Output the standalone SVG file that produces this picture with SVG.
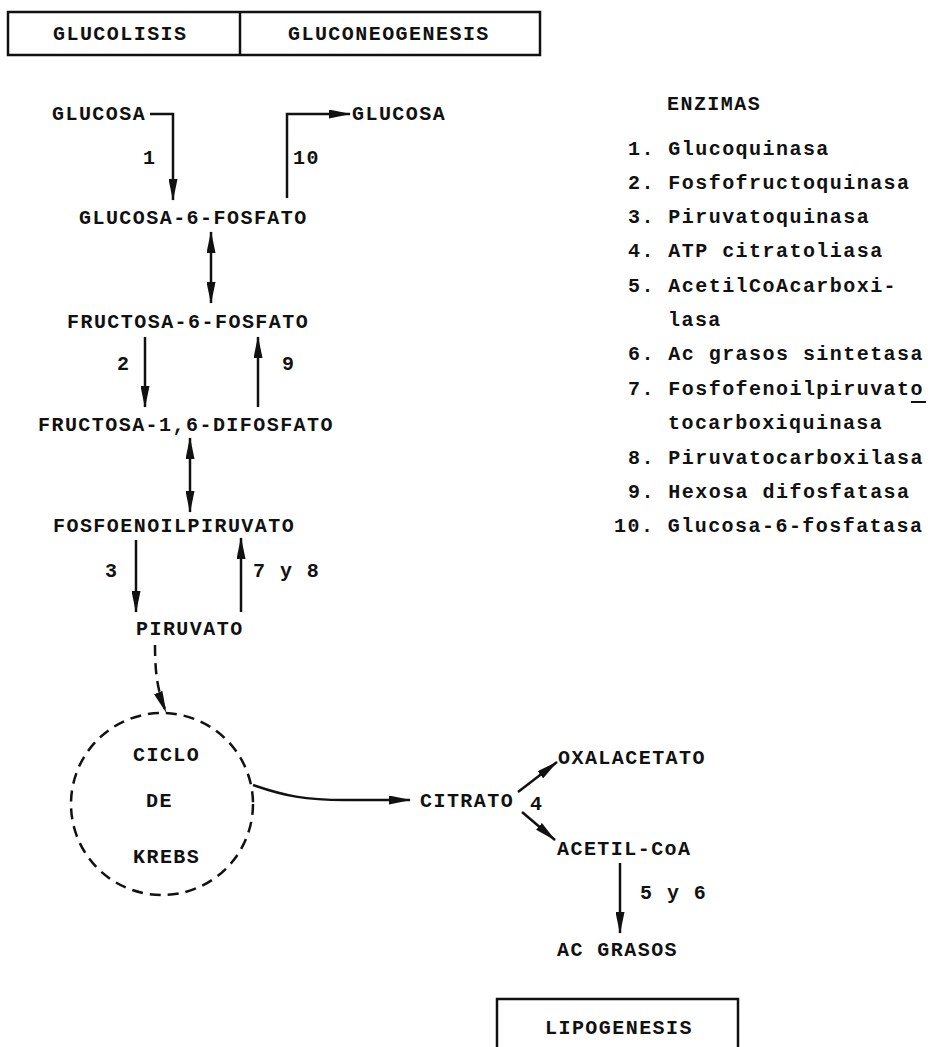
<svg xmlns="http://www.w3.org/2000/svg" width="932" height="1047" viewBox="0 0 932 1047">
<style>
text{font-family:"Liberation Mono","Courier New",monospace;font-weight:bold;font-size:20px;letter-spacing:1.45px;fill:#111}
.ln{fill:none;stroke:#111;stroke-width:2.5}
.ar{marker-end:url(#ah)}
.dbl{marker-start:url(#ah);marker-end:url(#ah)}
.dash{fill:none;stroke:#111;stroke-width:2.5;stroke-dasharray:11 7}
.box{fill:none;stroke:#111;stroke-width:2.5}
</style>
<defs>
<marker id="ah" viewBox="0 0 22 9" markerWidth="22" markerHeight="9" refX="21" refY="4.5" orient="auto-start-reverse" markerUnits="userSpaceOnUse">
<path d="M0,0 L22,4.5 L0,9 Z" fill="#111"/>
</marker>
</defs>
<g id="header">
<rect class="box" x="8" y="12" width="532" height="43"/>
<line class="box" x1="240" y1="12" x2="240" y2="55"/>
<text x="53" y="40">GLUCOLISIS</text>
<text x="288" y="40">GLUCONEOGENESIS</text>
</g>
<g id="glucosa-in"><text x="52" y="120">GLUCOSA</text></g>
<g id="glucosa-out"><text x="352" y="120">GLUCOSA</text></g>
<g id="g6p"><text x="79" y="224">GLUCOSA-6-FOSFATO</text></g>
<g id="f6p"><text x="67" y="328">FRUCTOSA-6-FOSFATO</text></g>
<g id="f16dp"><text x="38" y="431">FRUCTOSA-1,6-DIFOSFATO</text></g>
<g id="pep"><text x="53" y="532">FOSFOENOILPIRUVATO</text></g>
<g id="piruvato"><text x="136" y="635">PIRUVATO</text></g>
<g id="krebs">
<circle class="dash" cx="162" cy="804" r="91"/>
<text x="133" y="761">CICLO</text>
<text x="146" y="807">DE</text>
<text x="133" y="863">KREBS</text>
</g>
<g id="citrato"><text x="420" y="807">CITRATO</text></g>
<g id="oxalacetato"><text x="558" y="764">OXALACETATO</text></g>
<g id="acetilcoa"><text x="557" y="855">ACETIL-CoA</text></g>
<g id="acgrasos"><text x="557" y="956">AC GRASOS</text></g>
<g id="lipogenesis">
<path class="box" d="M497,1047 V999 H738 V1047"/>
<text x="545" y="1034">LIPOGENESIS</text>
</g>
<g id="enzimas">
<text x="667" y="110">ENZIMAS</text>
<text x="628" y="155">1. Glucoquinasa</text>
<text x="628" y="189">2. Fosfofructoquinasa</text>
<text x="628" y="223">3. Piruvatoquinasa</text>
<text x="628" y="257">4. ATP citratoliasa</text>
<text x="628" y="292">5. AcetilCoAcarboxi-</text>
<text x="668" y="326">lasa</text>
<text x="628" y="360">6. Ac grasos sintetasa</text>
<text x="628" y="395">7. Fosfofenoilpiruvato</text>
<line x1="911" y1="402" x2="926" y2="402" stroke="#111" stroke-width="2"/>
<text x="668" y="429">tocarboxiquinasa</text>
<text x="628" y="464">8. Piruvatocarboxilasa</text>
<text x="628" y="498">9. Hexosa difosfatasa</text>
<text x="614" y="532">10. Glucosa-6-fosfatasa</text>
</g>
<g id="connectors">
<path class="ln ar" d="M150,114 H173 V200"/>
<path class="ln ar" d="M287,198 V114 H350"/>
<path class="ln dbl" d="M211,232 V303"/>
<path class="ln ar" d="M145,337 V407"/>
<path class="ln ar" d="M258,407 V337"/>
<path class="ln dbl" d="M190,438 V512"/>
<path class="ln ar" d="M136,540 V612"/>
<path class="ln ar" d="M241,612 V538"/>
<path class="dash" d="M155,645 C155,675 158,692 166,712" marker-end="url(#ah)"/>
<path class="ln ar" d="M253,785 C285,796 305,800 345,800 L410,800"/>
<path class="ln ar" d="M518,792 L557,762"/>
<path class="ln ar" d="M522,812 L555,840"/>
<path class="ln ar" d="M620,863 V933"/>
<text x="143" y="164">1</text>
<text x="293" y="164">10</text>
<text x="117" y="370">2</text>
<text x="282" y="370">9</text>
<text x="105" y="577">3</text>
<text x="253" y="577">7 y 8</text>
<text x="530" y="810">4</text>
<text x="640" y="899">5 y 6</text>
</g>
</svg>
